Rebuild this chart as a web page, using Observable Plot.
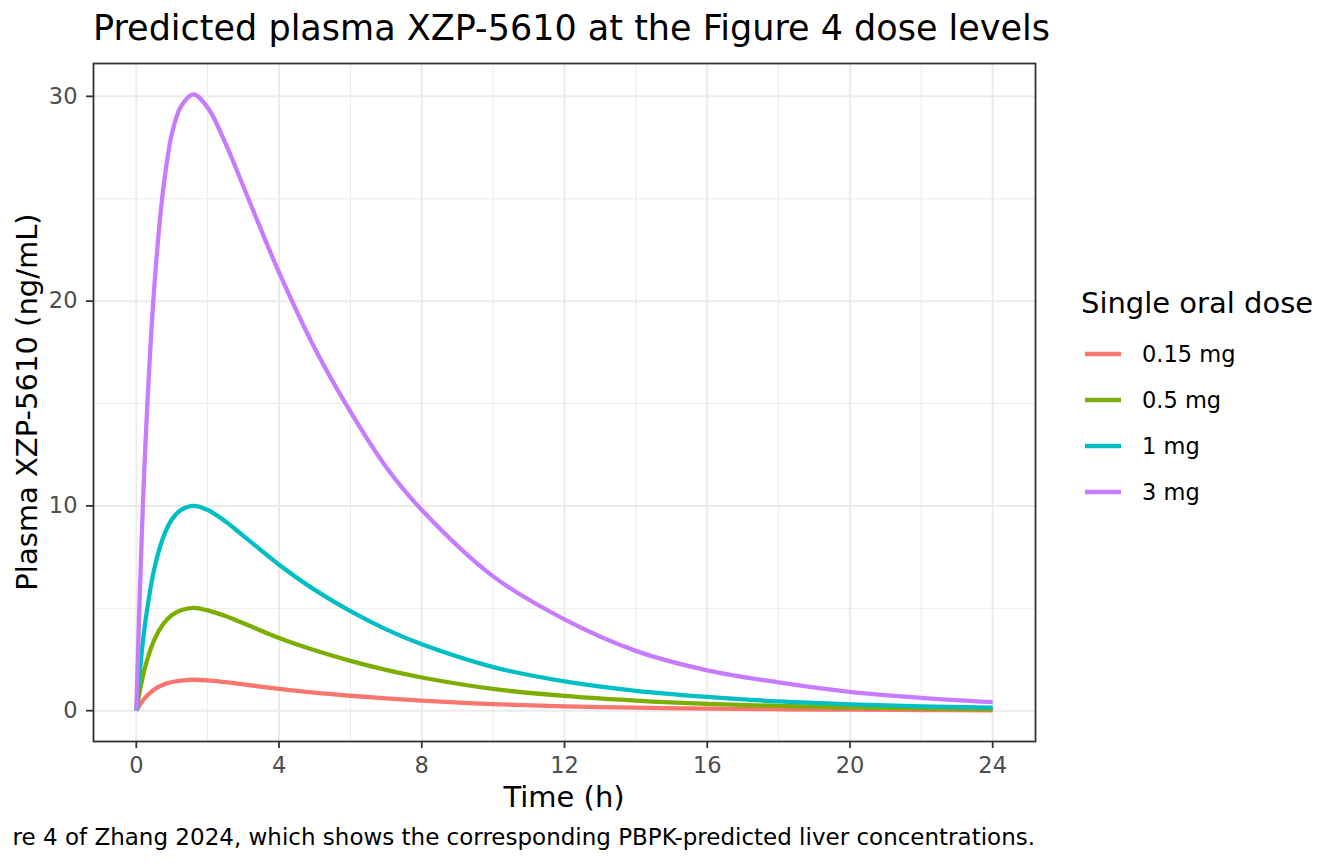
<!DOCTYPE html>
<html>
<head>
<meta charset="utf-8">
<script src="https://cdn.jsdelivr.net/npm/d3@7"></script>
<script src="https://cdn.jsdelivr.net/npm/@observablehq/plot@0.6"></script>
<style>
  html, body { margin: 0; padding: 0; background: #ffffff; }
  #chart { width: 1344px; height: 864px; }
</style>
</head>
<body>
<div id="chart"></div>
<script>
// ---- Data ----
const times = [0, 0.1, 0.25, 0.5, 0.75, 1, 1.25, 1.6, 2, 2.5, 3, 4, 5, 6, 7, 8, 10, 12, 14, 16, 18, 20, 22, 24];
const conc015 = [0, 0.29, 0.64, 1.04, 1.27, 1.40, 1.47, 1.51, 1.48, 1.39, 1.28, 1.07, 0.88, 0.73, 0.60, 0.49, 0.32, 0.21, 0.15, 0.10, 0.07, 0.05, 0.03, 0.02];
const conc05  = [0, 0.98, 2.15, 3.45, 4.22, 4.67, 4.90, 5.02, 4.90, 4.62, 4.27, 3.55, 2.95, 2.43, 1.99, 1.62, 1.06, 0.72, 0.49, 0.33, 0.23, 0.16, 0.11, 0.07];
const conc1   = [0, 1.95, 4.30, 6.90, 8.45, 9.35, 9.80, 10.0, 9.80, 9.24, 8.54, 7.13, 5.90, 4.86, 3.97, 3.24, 2.13, 1.43, 0.97, 0.67, 0.45, 0.31, 0.21, 0.15];
const conc3   = [0, 5.8, 12.8, 20.6, 25.4, 28.2, 29.5, 30.1, 29.45, 27.7, 25.6, 21.4, 17.7, 14.6, 11.9, 9.8, 6.56, 4.46, 2.92, 1.97, 1.38, 0.92, 0.63, 0.42];
const doseLabels = ["0.15 mg", "0.5 mg", "1 mg", "3 mg"];
const doseColors = ["#F8766D", "#7CAE00", "#00BFC4", "#C77CFF"];
const xTicks = [0, 4, 8, 12, 16, 20, 24];
const xMinor = [2, 6, 10, 14, 18, 22];
const yTicks = [0, 10, 20, 30];
const yMinor = [5, 15, 25];
const titleText = "Predicted plasma XZP-5610 at the Figure 4 dose levels";
const xLabel = "Time (h)";
const yLabel = "Plasma XZP-5610 (ng/mL)";
const legendTitle = "Single oral dose";
const captionText = "re 4 of Zhang 2024, which shows the corresponding PBPK-predicted liver concentrations.";

// ---- Build table ----
const series = [conc015, conc05, conc1, conc3];
const rows = doseLabels.flatMap((d, i) => times.map((t, j) => ({t, c: series[i][j], dose: d})));

const xExt = d3.extent(times);
const xPad = (xExt[1] - xExt[0]) * 0.05;
const yExt = d3.extent(rows, r => r.c);
const yPad = (yExt[1] - yExt[0]) * 0.05;

const FONT = "DejaVu Sans, Verdana, sans-serif";
const M = {left: 93, right: 309, top: 63, bottom: 123};
const W = 1344, H = 864;

const chart = Plot.plot({
  width: W,
  height: H,
  marginLeft: M.left,
  marginRight: M.right,
  marginTop: M.top,
  marginBottom: M.bottom,
  style: {fontFamily: FONT, fontSize: "22px", color: "#4D4D4D", background: "#ffffff", overflow: "visible"},
  x: {domain: [xExt[0] - xPad, xExt[1] + xPad]},
  y: {domain: [yExt[0] - yPad, yExt[1] + yPad]},
  color: {domain: doseLabels, range: doseColors},
  marks: [
    Plot.gridX(xMinor, {stroke: "#EBEBEB", strokeOpacity: 1, strokeWidth: 1}),
    Plot.gridY(yMinor, {stroke: "#EBEBEB", strokeOpacity: 1, strokeWidth: 1}),
    Plot.gridX(xTicks, {stroke: "#EBEBEB", strokeOpacity: 1, strokeWidth: 2}),
    Plot.gridY(yTicks, {stroke: "#EBEBEB", strokeOpacity: 1, strokeWidth: 2}),
    Plot.line(rows, {x: "t", y: "c", z: "dose", stroke: "dose", strokeWidth: 4.3, curve: "catmull-rom", strokeLinecap: "butt", strokeLinejoin: "round"}),
    Plot.frame({stroke: "#333333", strokeWidth: 1.8}),
    Plot.axisX({ticks: xTicks, tickSize: 7, tickPadding: 9, stroke: "#333333", strokeWidth: 1.8, fill: "#4D4D4D", fontSize: 22.5, label: null, tickFormat: d => String(d)}),
    Plot.axisY({ticks: yTicks, tickSize: 7, tickPadding: 9, stroke: "#333333", strokeWidth: 1.8, fill: "#4D4D4D", fontSize: 22.5, label: null, tickFormat: d => String(d)})
  ]
});

// ---- Titles, caption and legend ----
const svg = d3.select(chart);
const ann = svg.append("g").attr("font-family", FONT).attr("fill", "#000000");
const panelRight = W - M.right;
const panelCx = (M.left + panelRight) / 2;
const panelCy = (M.top + (H - M.bottom)) / 2;

ann.append("text").attr("x", M.left).attr("y", 40).attr("text-anchor", "start")
  .attr("font-size", 35).text(titleText);
ann.append("text").attr("x", panelCx).attr("y", 807).attr("text-anchor", "middle")
  .attr("font-size", 29).text(xLabel);
ann.append("text").attr("transform", `translate(27,${panelCy}) rotate(-90)`)
  .attr("text-anchor", "middle").attr("dy", "0.36em")
  .attr("font-size", 29).text(yLabel);
ann.append("text").attr("x", panelRight).attr("y", 845).attr("text-anchor", "end")
  .attr("font-size", 23).text(captionText);

const lg = ann.append("g");
lg.append("text").attr("x", 1081).attr("y", 313).attr("text-anchor", "start")
  .attr("font-size", 29).text(legendTitle);
doseLabels.forEach((d, i) => {
  const y = 354 + 46 * i;
  lg.append("line").attr("x1", 1085).attr("x2", 1121).attr("y1", y).attr("y2", y)
    .attr("stroke", doseColors[i]).attr("stroke-width", 4.3);
  lg.append("text").attr("x", 1142).attr("y", y).attr("dy", "0.36em").attr("text-anchor", "start")
    .attr("font-size", 22.5).text(d);
});

document.getElementById("chart").appendChild(chart);
</script>
</body>
</html>
